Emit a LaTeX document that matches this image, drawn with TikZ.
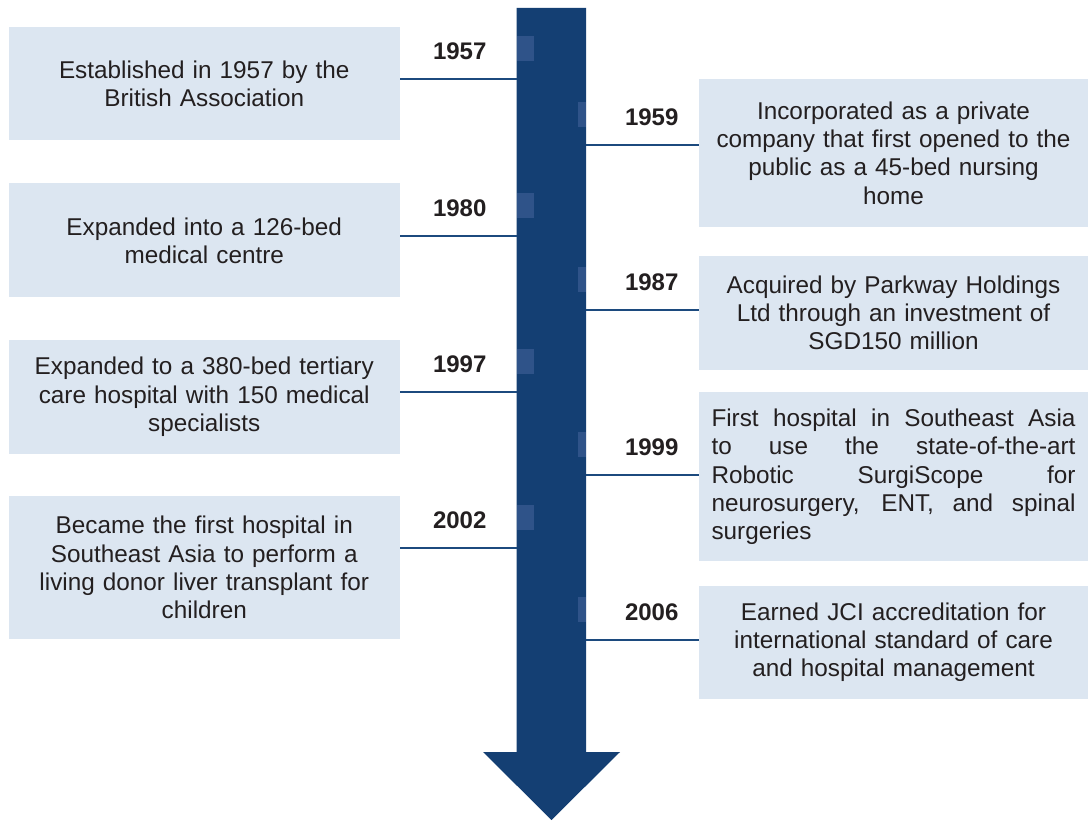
\documentclass[tikz,border=0pt]{standalone}
\usepackage{fontspec}
\setmainfont{Liberation Sans}
\usetikzlibrary{positioning}
\definecolor{shaftcol}{HTML}{143F73}
\definecolor{markcol}{HTML}{2F5389}
\definecolor{tickcol}{HTML}{1C4A7E}
\definecolor{boxtint}{HTML}{DCE6F1}
\definecolor{txtcol}{HTML}{231F20}

\begin{document}
\begin{tikzpicture}[x=1pt,y=-1pt,
    ebox/.style={fill=boxtint,text=txtcol,inner sep=0pt,align=center,
      font=\fontsize{24.3}{28.3}\selectfont},
    lbox/.style={ebox,minimum width=391.5pt,text width=380pt},
    rbox/.style={ebox,minimum width=389pt,text width=380pt},
    jbox/.style={ebox,minimum width=389pt,text width=364pt,align=justify},
    yr/.style={text=txtcol,inner sep=0pt,font=\bfseries\fontsize{24}{24}\selectfont},
    tick/.style={draw=tickcol,line width=1.4pt}]
    \useasboundingbox[fill=white](0,0) rectangle (1088,821);
    % left events
    \node[lbox,minimum height=113pt](b1957) at (204.25,84){Established in 1957 by the\\British Association};
    \node[lbox,minimum height=114pt](b1980) at (204.25,240.5){Expanded into a 126-bed\\medical centre};
    \node[lbox,minimum height=113pt](b1997) at (204.25,397){Expanded to a 380-bed tertiary\\care hospital with 150 medical\\specialists};
    \node[lbox,minimum height=143.5pt](b2002) at (204.25,567.5){Became the first hospital in\\Southeast Asia to perform a\\living donor liver transplant for\\children};
    % right events
    \node[rbox,minimum height=147.7pt](b1959) at (893.5,152.9){Incorporated as a private\\company that first opened to the\\public as a 45-bed nursing\\home};
    \node[rbox,minimum height=113.7pt](b1987) at (893.5,312.9){Acquired by Parkway Holdings\\Ltd through an investment of\\SGD150 million};
    \node[jbox,minimum height=169pt](b1999) at (893.5,476.8){\tolerance=10000 \leftskip=6pt First hospital in Southeast Asia\linebreak to use the state-of-the-art\linebreak Robotic SurgiScope for\linebreak neurosurgery, ENT, and spinal\linebreak surgeries};
    \node[rbox,minimum height=113.6pt](b2006) at (893.5,642.4){Earned JCI accreditation for\\international standard of care\\and hospital management};
    % timeline arrow
    \fill[shaftcol](516.5,8)--(586,8)--(586,752)--(620,752)--(551.5,820)--(483,752)--(516.5,752)--cycle;
    \fill[markcol](516.5,36) rectangle (534,61);
    \fill[markcol](516.5,193) rectangle (534,218);
    \fill[markcol](516.5,349) rectangle (534,374);
    \fill[markcol](516.5,505) rectangle (534,530);
    \fill[markcol](578,102) rectangle (586,127);
    \fill[markcol](578,267) rectangle (586,292);
    \fill[markcol](578,432) rectangle (586,457);
    \fill[markcol](578,597) rectangle (586,622);
    \coordinate(s1957) at (516.5,79);
    \coordinate(s1980) at (516.5,236);
    \coordinate(s1997) at (516.5,392);
    \coordinate(s2002) at (516.5,548);
    \coordinate(s1959) at (586,145);
    \coordinate(s1987) at (586,310);
    \coordinate(s1999) at (586,475);
    \coordinate(s2006) at (586,640);
    \draw[tick](b1957.east|-s1957)--(s1957);\draw[tick](b1980.east|-s1980)--(s1980);
    \draw[tick](b1997.east|-s1997)--(s1997);\draw[tick](b2002.east|-s2002)--(s2002);
    \draw[tick](s1959)--(b1959.west|-s1959);\draw[tick](s1987)--(b1987.west|-s1987);
    \draw[tick](s1999)--(b1999.west|-s1999);\draw[tick](s2006)--(b2006.west|-s2006);
    % years
    \node[yr](y1957) at (459.7,51.5){1957};
    \node[yr](y1980) at (459.7,208){1980};
    \node[yr](y1997) at (459.7,364){1997};
    \node[yr](y2002) at (459.7,520){2002};
    \node[yr](y1959) at (651.7,117){1959};
    \node[yr](y1987) at (651.7,282){1987};
    \node[yr](y1999) at (651.7,447){1999};
    \node[yr](y2006) at (651.7,612){2006};
  \end{tikzpicture}
\end{document}
